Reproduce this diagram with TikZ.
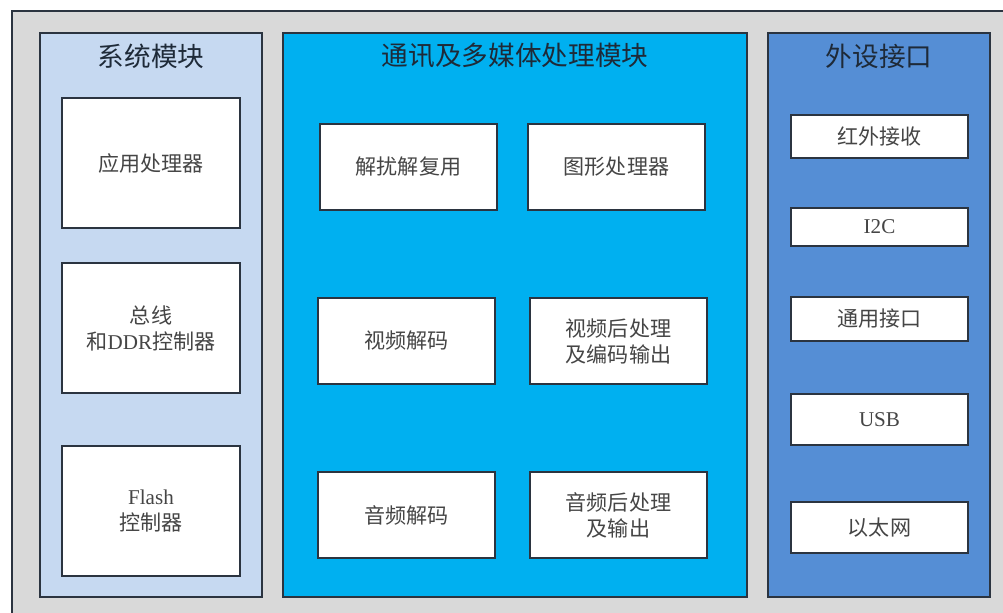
\documentclass[tikz,border=0pt]{standalone}
\usepackage{fontspec}
\newfontfamily\cjk{Noto Sans CJK SC}
\newfontfamily\lat{Liberation Serif}
\definecolor{bggray}{HTML}{D9D9D9}
\definecolor{sysblue}{HTML}{C6D9F1}
\definecolor{midblue}{HTML}{00B0F0}
\definecolor{perblue}{HTML}{558ED5}
\definecolor{edgedark}{HTML}{2B3440}
\definecolor{txtgray}{HTML}{454545}
\definecolor{titlecol}{HTML}{1E2A38}
\tikzset{
  panel/.style={draw=edgedark, line width=1.1pt},
  unit/.style={draw=edgedark, line width=1.1pt, fill=white},
  lbl/.style={text=txtgray, font=\cjk\fontsize{15.8}{19.5}\selectfont, align=center},
  ttl/.style={text=titlecol, font=\cjk\fontsize{20}{24}\selectfont}
}
\begin{document}
\begin{tikzpicture}[x=0.75pt,y=-0.75pt]
\useasboundingbox (0,0) rectangle (1003,613);
\clip (0,0) rectangle (1003,613);
\fill[white] (0,0) rectangle (1003,613);
\draw[fill=bggray, draw=edgedark, line width=1.1pt] (12,11) rectangle (1015,625);
% panels
\draw[panel, fill=sysblue] (40,33) rectangle (262,597);
\draw[panel, fill=midblue] (283,33) rectangle (747,597);
\draw[panel, fill=perblue] (768,33) rectangle (990,597);
\node[ttl] (t1) at (151,56) {系统模块};
\node[ttl] (t2) at (515,56) {通讯及多媒体处理模块};
\node[ttl] (t3) at (879,56) {外设接口};
% system units
\draw[unit] (62,98) rectangle (240,228);
\node[lbl] (a1) at (151,163) {应用处理器};
\draw[unit] (62,263) rectangle (240,393);
\node[lbl] (a2) at (151,328) {总线\\和{\lat DDR}控制器};
\draw[unit] (62,446) rectangle (240,576);
\node[lbl] (a3) at (151,511) {{\lat Flash}\\控制器};
% middle units
\draw[unit] (320,124) rectangle (497,210);
\node[lbl] (b1) at (408.5,167) {解扰解复用};
\draw[unit] (528,124) rectangle (705,210);
\node[lbl] (b2) at (616.5,167) {图形处理器};
\draw[unit] (318,298) rectangle (495,384);
\node[lbl] (b3) at (406.5,341) {视频解码};
\draw[unit] (530,298) rectangle (707,384);
\node[lbl] (b4) at (618.5,341) {视频后处理\\及编码输出};
\draw[unit] (318,472) rectangle (495,558);
\node[lbl] (b5) at (406.5,515) {音频解码};
\draw[unit] (530,472) rectangle (707,558);
\node[lbl] (b6) at (618.5,515) {音频后处理\\及输出};
% peripheral units
\draw[unit] (791,115) rectangle (968,158);
\node[lbl] (c1) at (879.5,136.5) {红外接收};
\draw[unit] (791,208) rectangle (968,246);
\node[lbl] (c2) at (879.5,227) {\lat I2C};
\draw[unit] (791,297) rectangle (968,341);
\node[lbl] (c3) at (879.5,319) {通用接口};
\draw[unit] (791,394) rectangle (968,445);
\node[lbl] (c4) at (879.5,419.5) {\lat USB};
\draw[unit] (791,502) rectangle (968,553);
\node[lbl] (c5) at (879.5,527.5) {以太网};
\end{tikzpicture}
\end{document}
